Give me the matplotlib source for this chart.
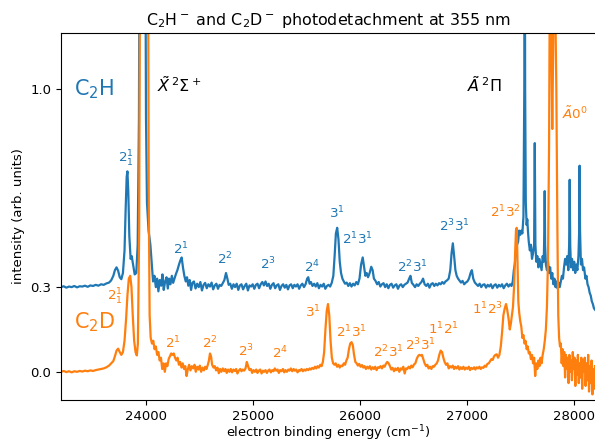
# %%
import numpy as np
import matplotlib.pyplot as plt

# %%
# C2H- spectrum (raw intensity, baseline 0)
e_c2h = [
    23200, 23225, 23250, 23275, 23300, 23325, 23350, 23375, 23400, 23425,
    23450, 23475, 23500, 23525, 23550, 23575, 23600, 23625, 23650, 23670,
    23690, 23705, 23720, 23735, 23750, 23765, 23780, 23795, 23805, 23815,
    23822, 23830, 23840, 23852, 23862, 23875, 23890, 23905, 23918, 23930,
    23937, 23988, 23996, 24005, 24020, 24037, 24050, 24062, 24075, 24088,
    24100, 24112, 24125, 24138, 24150, 24162, 24175, 24188, 24200, 24212,
    24225, 24238, 24250, 24262, 24275, 24290, 24305, 24318, 24330, 24342,
    24355, 24368, 24380, 24392, 24405, 24418, 24430, 24445, 24460, 24475,
    24490, 24505, 24520, 24535, 24550, 24565, 24580, 24595, 24610, 24625,
    24640, 24655, 24670, 24685, 24700, 24715, 24730, 24745, 24758, 24770,
    24785, 24800, 24815, 24830, 24845, 24860, 24875, 24890, 24905, 24920,
    24935, 24950, 24965, 24980, 24995, 25010, 25025, 25040, 25055, 25070,
    25085, 25100, 25115, 25130, 25145, 25160, 25175, 25190, 25205, 25220,
    25235, 25250, 25265, 25280, 25295, 25310, 25325, 25340, 25355, 25370,
    25385, 25400, 25415, 25430, 25445, 25460, 25475, 25490, 25505, 25515,
    25528, 25540, 25555, 25570, 25585, 25600, 25615, 25630, 25645, 25660,
    25675, 25690, 25705, 25720, 25735, 25750, 25762, 25774, 25786, 25798,
    25810, 25822, 25835, 25848, 25860, 25875, 25890, 25905, 25920, 25935,
    25950, 25965, 25980, 25995, 26010, 26025, 26038, 26050, 26062, 26075,
    26090, 26105, 26118, 26130, 26145, 26160, 26175, 26190, 26205, 26220,
    26235, 26250, 26265, 26280, 26295, 26310, 26325, 26340, 26355, 26370,
    26385, 26400, 26415, 26430, 26445, 26460, 26472, 26485, 26500, 26515,
    26530, 26545, 26560, 26575, 26590, 26605, 26620, 26635, 26650, 26665,
    26680, 26695, 26710, 26725, 26740, 26755, 26770, 26785, 26800, 26815,
    26830, 26845, 26857, 26869, 26881, 26893, 26905, 26918, 26930, 26945,
    26960, 26975, 26990, 27005, 27020, 27035, 27047, 27060, 27075, 27090,
    27105, 27120, 27135, 27150, 27165, 27180, 27195, 27210, 27225, 27240,
    27255, 27270, 27285, 27300, 27315, 27330, 27345, 27360, 27375, 27390,
    27405, 27418, 27430, 27440, 27449, 27460, 27470, 27480, 27490, 27500,
    27510, 27520, 27530, 27538, 27542, 27546, 27552, 27560, 27566, 27572,
    27580, 27590, 27600, 27610, 27620, 27630, 27636, 27642, 27650, 27660,
    27670, 27680, 27690, 27700, 27710, 27720, 27726, 27729, 27733, 27740,
    27750, 27760, 27770, 27780, 27790, 27800, 27810, 27820, 27830, 27840,
    27850, 27860, 27870, 27880, 27890, 27900, 27910, 27920, 27930, 27940,
    27950, 27958, 27963, 27968, 27975, 27985, 27995, 28005, 28015, 28025,
    28035, 28045, 28052, 28056, 28060, 28068, 28078, 28088, 28098, 28110,
    28120, 28130, 28140, 28150, 28160, 28170, 28180, 28190, 28200,
]
i_c2h = [
    0.000, 0.003, -0.002, 0.002, 0.000, 0.004, -0.001, 0.003, 0.002, 0.005,
    0.001, 0.006, 0.004, 0.008, 0.005, 0.010, 0.008, 0.013, 0.016, 0.024,
    0.040, 0.060, 0.070, 0.058, 0.035, 0.028, 0.050, 0.130, 0.270, 0.390,
    0.410, 0.340, 0.180, 0.100, 0.110, 0.080, 0.045, 0.050, 0.150, 0.600,
    1.500, 1.500, 0.600, 0.300, 0.200, 0.150, 0.080, 0.020, 0.040, 0.000,
    0.030, -0.015, 0.025, 0.005, 0.045, -0.010, 0.020, 0.035, -0.005, 0.030,
    0.010, 0.040, 0.015, 0.030, 0.045, 0.060, 0.080, 0.095, 0.105, 0.070,
    0.040, 0.020, 0.035, 0.005, 0.025, -0.010, 0.015, 0.020, -0.005, 0.012,
    0.000, 0.018, -0.012, 0.008, 0.015, -0.004, 0.010, 0.002, 0.016, -0.008,
    0.006, 0.012, -0.006, 0.008, 0.004, 0.014, 0.025, 0.050, 0.030, 0.008,
    0.012, -0.006, 0.010, 0.000, 0.012, -0.010, 0.006, 0.010, -0.008, 0.004,
    0.012, -0.012, 0.006, 0.002, 0.010, -0.006, 0.008, 0.012, -0.004, 0.010,
    0.018, 0.006, 0.020, 0.004, 0.012, -0.006, 0.008, 0.014, -0.004, 0.006,
    0.010, -0.010, 0.004, 0.010, -0.002, 0.008, -0.008, 0.006, 0.010, -0.004,
    0.008, 0.002, 0.010, -0.006, 0.006, 0.012, 0.000, 0.010, 0.030, 0.035,
    0.012, 0.018, 0.004, 0.012, 0.002, 0.014, -0.004, 0.008, 0.002, 0.012,
    -0.006, 0.004, 0.008, 0.002, 0.015, 0.040, 0.110, 0.190, 0.210, 0.170,
    0.090, 0.050, 0.030, 0.020, 0.012, 0.016, 0.004, 0.014, 0.002, 0.012,
    0.006, 0.018, 0.010, 0.030, 0.080, 0.105, 0.070, 0.040, 0.050, 0.035,
    0.050, 0.072, 0.060, 0.030, 0.022, 0.010, 0.018, 0.002, 0.010, 0.014,
    0.000, 0.010, -0.004, 0.008, 0.012, -0.002, 0.006, 0.010, -0.006, 0.006,
    0.010, 0.000, 0.008, 0.012, 0.016, 0.030, 0.040, 0.015, 0.008, 0.000,
    0.010, 0.004, 0.012, 0.018, 0.030, 0.010, 0.004, 0.012, -0.002, 0.010,
    0.014, 0.004, 0.012, 0.006, 0.014, 0.010, 0.018, 0.012, 0.020, 0.024,
    0.030, 0.060, 0.120, 0.155, 0.110, 0.060, 0.040, 0.030, 0.024, 0.016,
    0.022, 0.010, 0.016, 0.020, 0.030, 0.050, 0.060, 0.030, 0.016, 0.010,
    0.004, 0.012, 0.000, 0.008, 0.010, -0.002, 0.008, 0.002, 0.010, -0.004,
    0.006, 0.010, -0.002, 0.008, 0.002, 0.010, -0.004, 0.006, 0.012, 0.002,
    0.010, 0.004, 0.020, 0.060, 0.080, 0.120, 0.150, 0.160, 0.200, 0.185,
    0.200, 0.190, 0.250, 0.700, 1.500, 0.700, 0.300, 0.220, 0.240, 0.200,
    0.160, 0.130, 0.150, 0.100, 0.120, 0.150, 0.510, 0.150, 0.090, 0.110,
    0.070, 0.100, 0.080, 0.060, 0.110, 0.090, 0.200, 0.340, 0.150, 0.080,
    0.060, 0.090, 0.050, 0.070, 0.030, 0.050, 0.010, 0.030, 0.000, 0.020,
    -0.005, 0.015, 0.000, 0.020, 0.040, 0.030, 0.070, 0.100, 0.080, 0.110,
    0.060, 0.150, 0.380, 0.150, 0.070, 0.100, 0.060, 0.090, 0.050, 0.080,
    0.060, 0.110, 0.200, 0.430, 0.200, 0.080, 0.100, 0.060, 0.070, 0.030,
    0.040, 0.010, 0.000, -0.020, -0.030, -0.050, -0.060, -0.075, -0.080,
]

# C2D- spectrum (raw intensity, baseline 0)
e_c2d = [
    23200, 23225, 23250, 23275, 23300, 23325, 23350, 23375, 23400, 23425,
    23450, 23475, 23500, 23525, 23550, 23575, 23600, 23625, 23650, 23670,
    23690, 23705, 23720, 23735, 23750, 23765, 23780, 23795, 23810, 23822,
    23835, 23848, 23860, 23872, 23885, 23898, 23910, 23920, 23932, 23940,
    24015, 24022, 24030, 24040, 24052, 24064, 24076, 24088, 24100, 24112,
    24124, 24136, 24148, 24160, 24172, 24184, 24196, 24208, 24220, 24232,
    24244, 24256, 24268, 24280, 24292, 24304, 24316, 24328, 24340, 24352,
    24364, 24376, 24388, 24400, 24412, 24425, 24438, 24450, 24462, 24475,
    24488, 24500, 24512, 24525, 24538, 24550, 24562, 24575, 24585, 24595,
    24605, 24615, 24628, 24640, 24652, 24665, 24678, 24690, 24702, 24715,
    24728, 24740, 24752, 24765, 24778, 24790, 24802, 24815, 24828, 24840,
    24852, 24865, 24878, 24890, 24902, 24915, 24928, 24940, 24952, 24965,
    24978, 24990, 25002, 25015, 25028, 25040, 25052, 25065, 25078, 25090,
    25102, 25115, 25128, 25140, 25152, 25165, 25178, 25190, 25202, 25215,
    25228, 25240, 25252, 25265, 25278, 25290, 25302, 25315, 25328, 25340,
    25352, 25365, 25378, 25390, 25402, 25415, 25428, 25440, 25452, 25465,
    25478, 25490, 25502, 25515, 25528, 25540, 25552, 25565, 25578, 25590,
    25602, 25615, 25628, 25640, 25652, 25664, 25676, 25688, 25700, 25712,
    25724, 25736, 25748, 25760, 25772, 25785, 25798, 25810, 25822, 25835,
    25848, 25860, 25872, 25884, 25896, 25908, 25920, 25932, 25944, 25956,
    25968, 25980, 25992, 26005, 26018, 26030, 26042, 26055, 26068, 26080,
    26092, 26105, 26118, 26130, 26142, 26155, 26168, 26180, 26192, 26205,
    26218, 26230, 26242, 26255, 26268, 26280, 26292, 26305, 26318, 26330,
    26342, 26355, 26368, 26380, 26392, 26405, 26418, 26430, 26442, 26455,
    26468, 26480, 26492, 26505, 26518, 26530, 26542, 26555, 26568, 26580,
    26592, 26605, 26618, 26630, 26642, 26655, 26668, 26680, 26692, 26705,
    26718, 26730, 26742, 26755, 26768, 26780, 26792, 26805, 26818, 26830,
    26842, 26855, 26868, 26880, 26892, 26905, 26918, 26930, 26942, 26955,
    26968, 26980, 26992, 27005, 27018, 27030, 27042, 27055, 27068, 27080,
    27092, 27105, 27118, 27130, 27142, 27155, 27168, 27180, 27192, 27205,
    27218, 27230, 27242, 27255, 27268, 27280, 27292, 27305, 27318, 27330,
    27342, 27355, 27367, 27378, 27390, 27402, 27412, 27422, 27432, 27442,
    27452, 27460, 27467, 27474, 27482, 27490, 27500, 27510, 27520, 27530,
    27540, 27550, 27560, 27570, 27580, 27590, 27600, 27610, 27620, 27630,
    27640, 27650, 27660, 27670, 27680, 27690, 27700, 27710, 27720, 27730,
    27740, 27750, 27760, 27770, 27778, 27790, 27800, 27810, 27822, 27838,
    27848, 27856, 27864, 27872, 27880, 27888, 27896, 27904, 27912, 27920,
    27928, 27936, 27944, 27952, 27960, 27968, 27976, 27984, 27992, 28000,
    28008, 28016, 28024, 28032, 28040, 28048, 28056, 28064, 28072, 28080,
    28088, 28096, 28104, 28112, 28120, 28128, 28136, 28144, 28152, 28160,
    28168, 28176, 28184, 28192, 28200,
]
i_c2d = [
    0.000, 0.003, -0.001, 0.002, -0.002, 0.002, 0.000, 0.003, 0.001, 0.004,
    0.002, 0.005, 0.003, 0.006, 0.008, 0.010, 0.012, 0.016, 0.022, 0.030,
    0.038, 0.055, 0.075, 0.082, 0.070, 0.060, 0.070, 0.110, 0.190, 0.270,
    0.330, 0.340, 0.300, 0.200, 0.110, 0.070, 0.058, 0.100, 0.500, 1.500,
    1.500, 0.600, 0.200, 0.120, 0.100, 0.110, 0.080, 0.090, 0.060, 0.070,
    0.040, 0.050, 0.010, 0.030, 0.000, 0.030, 0.020, 0.045, 0.055, 0.065,
    0.060, 0.065, 0.050, 0.040, 0.050, 0.025, 0.035, 0.015, 0.030, 0.010,
    0.020, -0.015, 0.010, 0.025, 0.005, 0.020, 0.012, 0.025, 0.000, 0.018,
    0.008, 0.022, 0.000, 0.015, 0.005, 0.018, 0.010, 0.025, 0.040, 0.065,
    0.055, 0.025, 0.015, 0.020, 0.005, 0.015, -0.005, 0.010, 0.000, 0.012,
    0.002, 0.010, -0.004, 0.008, 0.000, 0.010, -0.002, 0.008, 0.003, 0.010,
    -0.006, 0.004, 0.010, 0.002, 0.008, 0.004, 0.012, 0.035, 0.020, 0.006,
    0.010, -0.004, 0.006, 0.000, 0.008, -0.004, 0.004, 0.008, -0.006, 0.004,
    0.000, 0.006, -0.004, 0.004, 0.008, -0.002, 0.006, 0.002, 0.012, 0.004,
    0.008, -0.004, 0.006, 0.002, 0.010, -0.002, 0.006, 0.000, 0.008, 0.004,
    0.012, 0.002, 0.010, 0.004, 0.008, -0.002, 0.006, 0.004, 0.010, 0.002,
    0.008, 0.004, 0.010, 0.006, 0.012, 0.008, 0.014, 0.010, 0.018, 0.012,
    0.020, 0.015, 0.025, 0.020, 0.035, 0.070, 0.150, 0.215, 0.240, 0.200,
    0.110, 0.050, 0.030, 0.025, 0.030, 0.018, 0.025, 0.015, 0.022, 0.020,
    0.030, 0.025, 0.040, 0.050, 0.080, 0.100, 0.105, 0.095, 0.060, 0.035,
    0.030, 0.022, 0.028, 0.018, 0.024, 0.015, 0.020, 0.010, 0.018, 0.012,
    0.020, 0.008, 0.016, 0.010, 0.018, 0.006, 0.016, 0.014, 0.020, 0.012,
    0.022, 0.018, 0.028, 0.035, 0.030, 0.020, 0.008, 0.014, 0.002, 0.012,
    0.006, 0.014, 0.000, 0.012, 0.008, 0.018, -0.006, 0.012, 0.010, 0.018,
    0.012, 0.022, 0.016, 0.026, 0.030, 0.045, 0.055, 0.060, 0.058, 0.060,
    0.045, 0.030, 0.020, 0.025, 0.012, 0.018, 0.010, 0.020, 0.018, 0.025,
    0.030, 0.040, 0.060, 0.075, 0.070, 0.050, 0.035, 0.025, 0.030, 0.012,
    0.020, 0.015, 0.022, 0.010, 0.018, 0.012, 0.020, 0.008, 0.016, 0.010,
    0.018, 0.008, 0.015, 0.010, 0.018, 0.006, 0.014, 0.010, 0.016, 0.008,
    0.016, 0.012, 0.018, 0.010, 0.016, 0.014, 0.022, 0.018, 0.028, 0.030,
    0.038, 0.045, 0.042, 0.055, 0.060, 0.062, 0.050, 0.060, 0.090, 0.140,
    0.200, 0.225, 0.240, 0.220, 0.190, 0.150, 0.170, 0.200, 0.230, 0.300,
    0.420, 0.500, 0.510, 0.400, 0.250, 0.210, 0.180, 0.160, 0.120, 0.130,
    0.100, 0.110, 0.080, 0.090, 0.065, 0.070, 0.045, 0.060, 0.030, 0.050,
    -0.015, 0.030, 0.010, 0.040, 0.020, 0.050, 0.030, 0.060, 0.080, 0.110,
    0.150, 0.230, 0.400, 0.800, 1.500, 1.200, 0.860, 1.200, 1.500, 1.000,
    0.500, 0.200, 0.120, 0.090, 0.100, 0.030, 0.080, 0.020, 0.070, -0.020,
    0.060, 0.010, 0.050, -0.040, 0.060, 0.000, 0.040, -0.030, 0.070, 0.010,
    0.050, -0.050, 0.040, -0.010, 0.060, -0.040, 0.030, -0.020, 0.050, -0.060,
    0.040, 0.000, 0.050, -0.050, 0.030, -0.030, 0.060, -0.070, 0.020, -0.040,
    0.040, -0.080, 0.010, -0.060, 0.020,
]

# band labels: (text, energy, intensity)
c2h_labels = [
    ('$2^1_1$', 23804, 0.755), ('$2^1$', 24327, 0.434), ('$2^2$', 24738, 0.399),
    ('$2^3$', 25140, 0.381), ('$2^4$', 25551, 0.371), ('$3^1$', 25786, 0.563),
    ('$2^13^1$', 25972, 0.469), ('$2^23^1$', 26495, 0.371), ('$2^33^1$', 26888, 0.517),
]
c2d_labels = [
    ('$2^1_1$', 23701, 0.266), ('$2^1$', 24243, 0.101), ('$2^2$', 24589, 0.101),
    ('$2^3$', 24935, 0.073), ('$2^4$', 25252, 0.066), ('$3^1$', 25561, 0.213),
    ('$2^13^1$', 25916, 0.140), ('$2^23^1$', 26262, 0.070), ('$2^33^1$', 26561, 0.094),
    ('$1^12^1$', 26776, 0.150), ('$1^12^3$', 27196, 0.224), ('$2^13^2$', 27364, 0.566),
    ('$\\tilde{A}0^0$', 28009, 0.913),
]

# %%
c_h = '#1f77b4'
c_d = '#ff7f0e'
offset = 0.3

fig = plt.figure(figsize=(5.95, 4.44), dpi=100)
ax = fig.add_axes([0.1025, 0.099, 0.8975, 0.8267])

ax.plot(e_c2h, np.array(i_c2h) + offset, color=c_h, lw=1.6)
ax.plot(e_c2d, i_c2d, color=c_d, lw=1.6)

for txt, x, y in c2h_labels:
    ax.text(x, y, txt, color=c_h, fontsize=9.7, ha='center', va='center')
for txt, x, y in c2d_labels:
    ax.text(x, y, txt, color=c_d, fontsize=9.7, ha='center', va='center')

ax.text(23318, 1.0, 'C$_2$H', color=c_h, fontsize=15, ha='left', va='center')
ax.text(23318, 0.175, 'C$_2$D', color=c_d, fontsize=15, ha='left', va='center')
ax.text(24103, 1.017, '$\\tilde{X}\\,^2\\Sigma^+$', fontsize=11.5, ha='left', va='center')
ax.text(27000, 1.017, '$\\tilde{A}\\,^2\\Pi$', fontsize=11.5, ha='left', va='center')

ax.set_xlim(23200, 28200)
ax.set_ylim(-0.1, 1.2)
ax.set_yticks([0.0, 0.3, 1.0])
ax.set_xticks([24000, 25000, 26000, 27000, 28000])
ax.tick_params(labelsize=9.5)
ax.spines['right'].set_visible(False)
ax.set_xlabel('electron binding energy (cm$^{-1}$)', fontsize=9.4, labelpad=0.5)
ax.set_ylabel('intensity (arb. units)', fontsize=9.5)
ax.set_title('C$_2$H$^-$ and C$_2$D$^-$ photodetachment at 355 nm', fontsize=11.4)

plt.savefig('out.png', dpi=100)
